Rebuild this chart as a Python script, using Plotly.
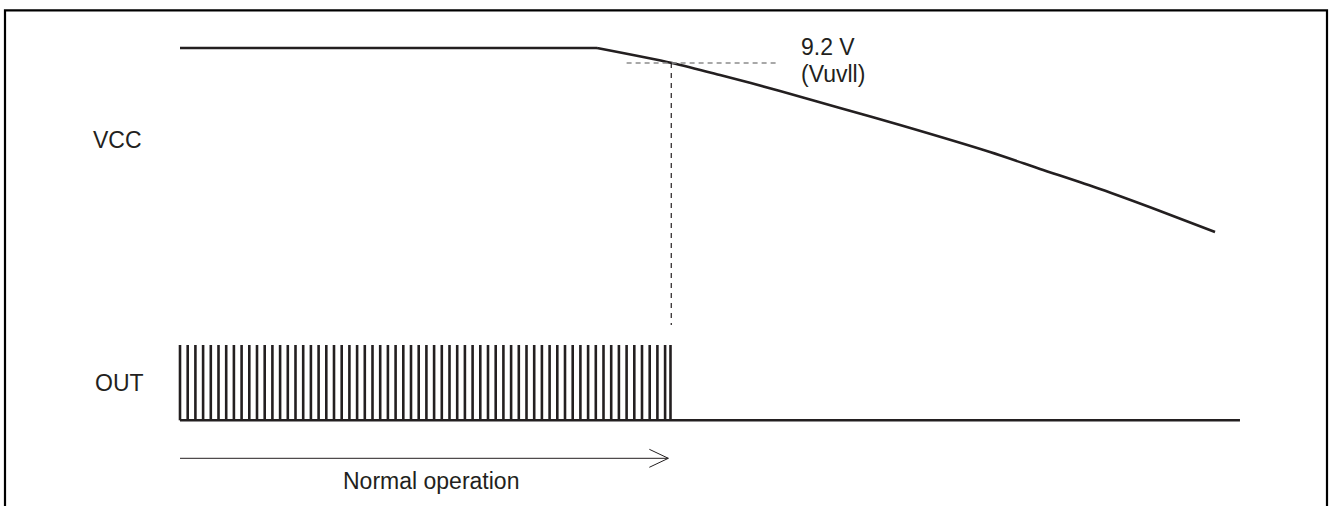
import plotly.graph_objects as go

W, H = 1330, 506

# ---- data (time axis in PWM periods, VCC in volts, OUT as logic level) ----
vcc_time = [0, 54.16, 63.90, 70.13, 77.92, 85.71, 93.51, 105.19, 111.69, 119.48, 127.27, 134.42]
vcc_volts = [10.0, 10.0, 9.2, 8.56, 7.71, 6.80, 5.89, 4.45, 3.55, 2.48, 1.31, 0.19]

uvlo_level = 9.2
uvlo_time = 63.8
uvlo_ref_span = [58.0, 77.5]       # dashed reference line at 9.2 V
uvlo_drop_bottom = -4.77           # lower end of dashed marker (VCC axis units)

pulse_times = [0, 1, 2, 3, 4, 5, 6, 7, 8, 9, 10, 11, 12, 13, 14, 15, 16, 17, 18, 19,
               20, 21, 22, 23, 24, 25, 26, 27, 28, 29, 30, 31, 32, 33, 34, 35, 36, 37,
               38, 39, 40, 41, 42, 43, 44, 45, 46, 47, 48, 49, 50, 51, 52, 53, 54, 55,
               56, 57, 58, 59, 60, 61, 62, 63, 63.7]
out_low = 0
out_high = 1
out_span = [0, 137.66]

normal_op_span = [0, 63.42]

labels_text = ["VCC", "OUT", "9.2 V", "(Vuvll)", "Normal operation"]

INK = "#231f20"
FONT = "Liberation Sans, Arial, sans-serif"

fig = go.Figure()

# VCC waveform: flat part, then the smooth decay
fig.add_trace(go.Scatter(x=vcc_time[:2], y=vcc_volts[:2], mode="lines",
                         line=dict(color=INK, width=2.6), yaxis="y",
                         hoverinfo="skip", showlegend=False))
fig.add_trace(go.Scatter(x=vcc_time[1:], y=vcc_volts[1:], mode="lines",
                         line=dict(color=INK, width=2.6, shape="spline", smoothing=0.8),
                         yaxis="y", hoverinfo="skip", showlegend=False))
# 9.2 V reference dashed line
fig.add_trace(go.Scatter(x=uvlo_ref_span, y=[uvlo_level, uvlo_level], mode="lines",
                         line=dict(color="#8c8c8c", width=1.3, dash="5px,4px"),
                         yaxis="y", hoverinfo="skip", showlegend=False))
# vertical dashed marker
fig.add_trace(go.Scatter(x=[uvlo_time, uvlo_time], y=[uvlo_level, uvlo_drop_bottom],
                         mode="lines", line=dict(color="#231f20", width=1.2, dash="5px,5px"),
                         yaxis="y", hoverinfo="skip", showlegend=False))

# OUT pulses
px_, py_ = [], []
for t in pulse_times:
    px_ += [t, t, None]
    py_ += [out_low, out_high, None]
fig.add_trace(go.Scatter(x=px_, y=py_, mode="lines",
                         line=dict(color=INK, width=2.6), yaxis="y2",
                         hoverinfo="skip", showlegend=False))
# OUT baseline
fig.add_trace(go.Scatter(x=out_span, y=[out_low, out_low], mode="lines",
                         line=dict(color=INK, width=2.6), yaxis="y2",
                         hoverinfo="skip", showlegend=False))

# axis helpers: time unit = 7.7 px, t=0 at px 180
x0_px, unit_px = 180.0, 7.7
xr = [-x0_px / unit_px, (W - x0_px) / unit_px]
# VCC axis: 9.2 V at px 63, 18.75 px/V
vr = [9.2 - (H - 63) / 18.75, 9.2 + 63 / 18.75]
# OUT axis: 0 at px 420.3, 1 at px 345
o_scale = 420.3 - 345
orr = [-(H - 420.3) / o_scale, 420.3 / o_scale]


def py(p):
    return 1 - p / H


def pxp(p):
    return p / W


# arrow "Normal operation"
arrow_y = py(458.3)
head_dx = 19 / unit_px
head_dy = 9 / H
shapes = [
    dict(type="line", xref="x", yref="paper", x0=normal_op_span[0], x1=normal_op_span[1],
         y0=arrow_y, y1=arrow_y, line=dict(color=INK, width=1)),
    dict(type="path", xref="x", yref="paper",
         path=f"M {normal_op_span[1]-head_dx},{arrow_y+head_dy} L {normal_op_span[1]},{arrow_y} "
              f"L {normal_op_span[1]-head_dx},{arrow_y-head_dy}",
         line=dict(color=INK, width=1)),
    # frame
    dict(type="rect", xref="paper", yref="paper", x0=pxp(5), x1=pxp(1327),
         y0=-0.1, y1=py(10.3), line=dict(color="black", width=2.2)),
]

ann_font = dict(family=FONT, size=23, color=INK)
annotations = [
    dict(text=labels_text[0], x=pxp(117), y=py(140), xanchor="center", yanchor="middle"),
    dict(text=labels_text[1], x=pxp(119), y=py(382.5), xanchor="center", yanchor="middle"),
    dict(text=labels_text[2], x=pxp(799), y=py(47), xanchor="left", yanchor="middle"),
    dict(text=labels_text[3], x=pxp(799), y=py(74), xanchor="left", yanchor="middle"),
    dict(text=labels_text[4], x=pxp(431), y=py(481), xanchor="center", yanchor="middle"),
]
for a in annotations:
    a.update(xref="paper", yref="paper", showarrow=False, font=ann_font)

fig.update_layout(
    width=W, height=H,
    margin=dict(l=0, r=0, t=0, b=0),
    paper_bgcolor="white", plot_bgcolor="white",
    xaxis=dict(range=xr, visible=False, fixedrange=True),
    yaxis=dict(range=vr, visible=False, fixedrange=True),
    yaxis2=dict(range=orr, visible=False, overlaying="y", fixedrange=True),
    shapes=shapes, annotations=annotations,
    showlegend=False,
)

fig.write_html("out.html", config={"displayModeBar": False},
               post_script="document.body.style.margin='0';document.body.style.overflow='hidden';")
